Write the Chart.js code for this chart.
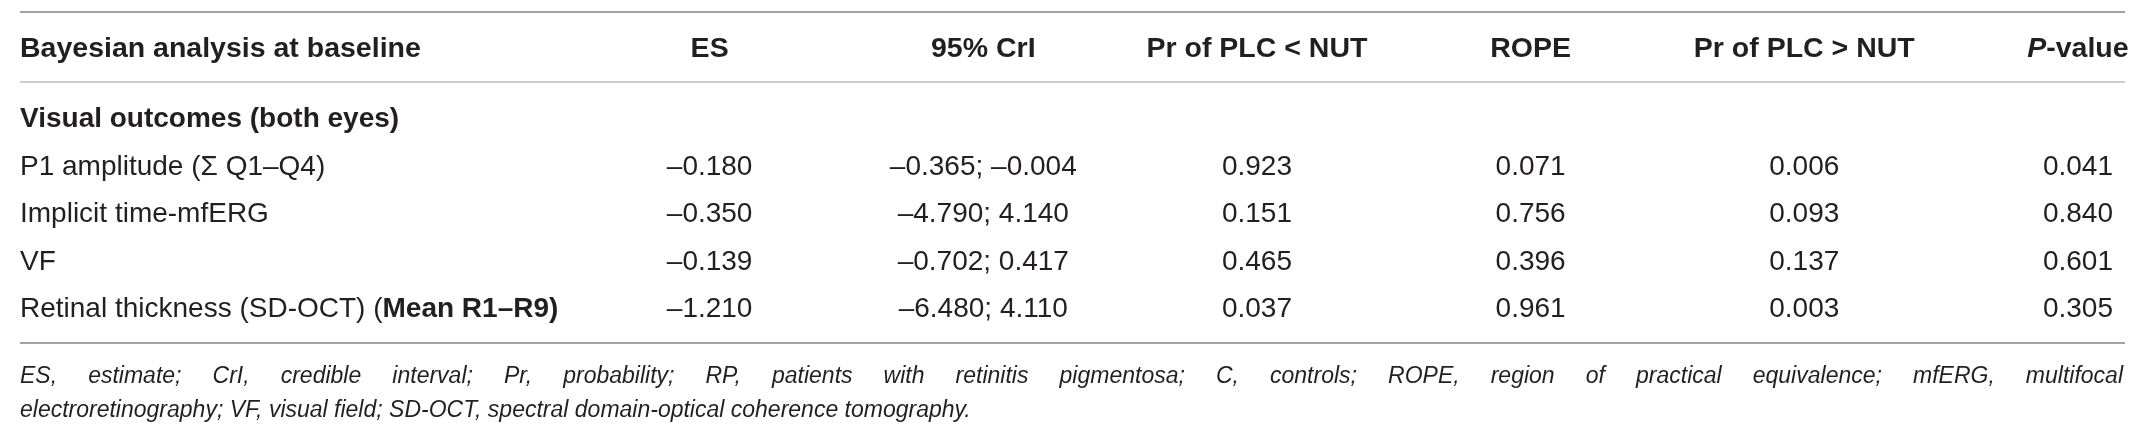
<!DOCTYPE html>
<html>
<head>
<meta charset="utf-8">
<script src="https://cdn.jsdelivr.net/npm/chart.js@4.4.0/dist/chart.umd.min.js"></script>
<style>
  html, body { margin: 0; padding: 0; background: #fff; }
  #wrap { width: 2138px; height: 440px; position: relative; }
</style>
</head>
<body>
<div id="wrap"><canvas id="table"></canvas></div>
<script>
// ** toggles bold, _ toggles italic
const COLUMNS = ['Bayesian analysis at baseline', 'ES', '95% CrI', 'Pr of PLC < NUT', 'ROPE', 'Pr of PLC > NUT', '_P_-value'];
const SECTION = '**Visual outcomes (both eyes)**';
const OUTCOMES = ['P1 amplitude (Σ Q1–Q4)', 'Implicit time-mfERG', 'VF', 'Retinal thickness (SD-OCT) (**Mean R1–R9)**'];

const ES = [-0.180, -0.350, -0.139, -1.210];
const CRI_LOW = [-0.365, -4.790, -0.702, -6.480];
const CRI_HIGH = [-0.004, 4.140, 0.417, 4.110];
const PR_LESS = [0.923, 0.151, 0.465, 0.037];
const ROPE = [0.071, 0.756, 0.396, 0.961];
const PR_MORE = [0.006, 0.093, 0.137, 0.003];
const P_VALUE = [0.041, 0.840, 0.601, 0.305];

const FOOTNOTE = [
    'ES, estimate; CrI, credible interval; Pr, probability; RP, patients with retinitis pigmentosa; C, controls; ROPE, region of practical equivalence; mfERG, multifocal',
    'electroretinography; VF, visual field; SD-OCT, spectral domain-optical coherence tomography.',
];

const FAMILY = '"Liberation Sans", Arial, sans-serif';
const INK = '#231f20';
const HEAD_SIZE = 28.5;
const BODY_SIZE = 28;
const NOTE_SIZE = 23;

const fmt = (v) => (v < 0 ? '\u2013' : '') + Math.abs(v).toFixed(3);

// one dataset per value column, rows start at 1 (row 0 is the section heading)
const cellColumns = [
    ES.map(fmt),
    CRI_LOW.map((lo, i) => fmt(lo) + '; ' + fmt(CRI_HIGH[i])),
    PR_LESS.map(fmt),
    ROPE.map(fmt),
    PR_MORE.map(fmt),
    P_VALUE.map(fmt),
];

const datasets = cellColumns.map((texts, c) => ({
    label: COLUMNS[c + 1],
    texts,
    data: texts.map((_, r) => ({ x: c + 1, y: r + 1 })),
    pointRadius: 0,
}));

function parseRuns(text) {
    const runs = [];
    let bold = false, italic = false, buf = '';
    for (let i = 0; i < text.length; i++) {
        if (text.startsWith('**', i)) {
            if (buf) runs.push({ t: buf, bold, italic });
            buf = ''; bold = !bold; i++;
        } else if (text[i] === '_') {
            if (buf) runs.push({ t: buf, bold, italic });
            buf = ''; italic = !italic;
        } else {
            buf += text[i];
        }
    }
    if (buf) runs.push({ t: buf, bold, italic });
    return runs;
}

function runFont(run, size, baseBold) {
    const b = run.bold || baseBold ? 'bold ' : '';
    const it = run.italic ? 'italic ' : '';
    return it + b + size + 'px ' + FAMILY;
}

function drawRich(ctx, text, x, y, align, size, baseBold) {
    const runs = parseRuns(text);
    let total = 0;
    runs.forEach((r) => {
        ctx.font = runFont(r, size, baseBold);
        r.w = ctx.measureText(r.t).width;
        total += r.w;
    });
    let cx = align === 'center' ? x - total / 2 : x;
    ctx.textAlign = 'left';
    runs.forEach((r) => {
        ctx.font = runFont(r, size, baseBold);
        ctx.fillText(r.t, cx, y);
        cx += r.w;
    });
}

function hline(ctx, x1, x2, y, color) {
    ctx.beginPath();
    ctx.strokeStyle = color;
    ctx.lineWidth = 2;
    ctx.moveTo(x1, y);
    ctx.lineTo(x2, y);
    ctx.stroke();
}

const tablePlugin = {
    id: 'tableText',
    afterDraw(chart) {
        const { ctx, chartArea: area, scales } = chart;
        const capShift = BODY_SIZE * 0.36;
        ctx.save();
        ctx.fillStyle = INK;
        ctx.textBaseline = 'alphabetic';

        // rules
        hline(ctx, area.left, area.right, area.top - 70, '#a3a3a3');
        hline(ctx, area.left, area.right, area.top, '#cdcdcd');
        hline(ctx, area.left, area.right, area.bottom, '#a3a3a3');

        // header row
        const headY = area.top - 35 + capShift;
        COLUMNS.forEach((h, c) => {
            if (c === 0) drawRich(ctx, h, area.left, headY, 'left', HEAD_SIZE, true);
            else drawRich(ctx, h, scales.x.getPixelForValue(c), headY, 'center', HEAD_SIZE, true);
        });

        // row labels
        [SECTION, ...OUTCOMES].forEach((lab, r) => {
            drawRich(ctx, lab, area.left, scales.y.getPixelForValue(r) + capShift, 'left', BODY_SIZE, false);
        });

        // cells
        chart.data.datasets.forEach((ds, i) => {
            chart.getDatasetMeta(i).data.forEach((pt, j) => {
                drawRich(ctx, ds.texts[j], pt.x, pt.y + capShift, 'center', BODY_SIZE, false);
            });
        });

        // footnote, first line justified
        ctx.font = 'italic ' + NOTE_SIZE + 'px ' + FAMILY;
        ctx.textAlign = 'left';
        const words = FOOTNOTE[0].split(' ');
        const widths = words.map((w) => ctx.measureText(w).width);
        const gap = (area.right - 2 - area.left - widths.reduce((a, b) => a + b, 0)) / (words.length - 1);
        let fx = area.left;
        words.forEach((w, k) => {
            ctx.fillText(w, fx, area.bottom + 40);
            fx += widths[k] + gap;
        });
        ctx.fillText(FOOTNOTE[1], area.left, area.bottom + 74);
        ctx.restore();
    },
};

new Chart(document.getElementById('table'), {
    type: 'scatter',
    data: { datasets },
    plugins: [tablePlugin],
    options: {
        responsive: true,
        maintainAspectRatio: false,
        animation: false,
        layout: { padding: { left: 20, right: 13, top: 82, bottom: 97 } },
        plugins: { legend: { display: false }, tooltip: { enabled: false } },
        scales: {
            x: { type: 'linear', display: false, min: -1.52, max: 6.172 },
            y: { type: 'linear', display: false, reverse: true, min: -0.74, max: 4.75 },
        },
    },
});
</script>
</body>
</html>
